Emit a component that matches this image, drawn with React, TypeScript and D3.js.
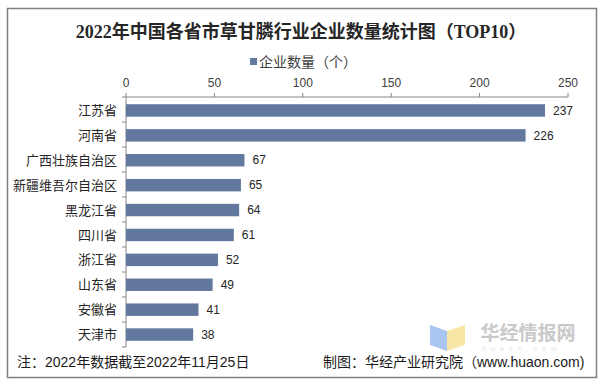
import React from "react";
import * as d3 from "d3";

const categories = ["江苏省", "河南省", "广西壮族自治区", "新疆维吾尔自治区", "黑龙江省", "四川省", "浙江省", "山东省", "安徽省", "天津市"];
const values = [237, 226, 67, 65, 64, 61, 52, 49, 41, 38];
const xTicks = [0, 50, 100, 150, 200, 250];
const titleText = "2022年中国各省市草甘膦行业企业数量统计图（TOP10）";
const legendText = "企业数量（个）";
const noteText = "注：2022年数据截至2022年11月25日";
const sourceText = "制图：华经产业研究院（www.huaon.com)";

const W = 602;
const H = 383;
const BAR = "#62789e";
const AXIS = "#868686";
const FONT = "'Liberation Sans', 'Noto Sans CJK SC', sans-serif";

export default function App() {
  const x = d3.scaleLinear().domain([0, 250]).range([126, 568]);
  const y = d3.scaleBand<string>().domain(categories).range([98, 347]).paddingInner(0.5).paddingOuter(0.25);
  const bounds = d3.range(categories.length + 1).map((i) => 97 + i * ((347 - 97) / categories.length));

  return (
    <svg width={W} height={H} style={{ position: "absolute", left: 0, top: 0, background: "#fff" }}>
      <rect x={0} y={0} width={W} height={H} fill="#fff" />
      <rect x={7.5} y={8.5} width={589} height={369} fill="none" stroke="#808080" strokeWidth={1.5} />

      {/* watermark */}
      <g>
        <polygon points="430,325 447,331 447,351 430,345" fill="#a9c6f0" />
        <polygon points="447,331 465,325 465,345 447,351" fill="#f7e7a6" />
        <text x={528} y={340} textAnchor="middle" fontFamily="'Noto Sans CJK SC', sans-serif" fontWeight="bold" fontSize={19} fill="#c9c9c9">华经情报网</text>
        <text x={522} y={351} textAnchor="middle" fontFamily={FONT} fontSize={7} letterSpacing={5} fill="#e3e3e3">huaon.com</text>
      </g>

      <text x={301} y={38} textAnchor="middle" fontFamily="'Liberation Serif', 'Noto Sans CJK SC', serif" fontWeight="bold" fontSize={18} fill="#262626">{titleText}</text>

      <rect x={250} y={58} width={7} height={7} fill={BAR} />
      <text x={259} y={67} fontFamily={FONT} fontSize={14} fill="#404040">{legendText}</text>

      {/* top axis */}
      <line x1={x(0)} x2={x(250)} y1={97} y2={97} stroke={AXIS} strokeWidth={1} />
      {xTicks.map((t) => (
        <g key={t}>
          <line x1={x(t)} x2={x(t)} y1={93} y2={97} stroke={AXIS} />
          <text x={x(t)} y={87} textAnchor="middle" fontFamily={FONT} fontSize={12} fill="#404040">{t}</text>
        </g>
      ))}

      {/* left axis */}
      <line x1={126} x2={126} y1={97} y2={347} stroke={AXIS} />
      {bounds.map((b, i) => (
        <line key={i} x1={122} x2={126} y1={b} y2={b} stroke={AXIS} />
      ))}

      {categories.map((c, i) => {
        const yc = (y(c) as number) + y.bandwidth() / 2;
        return (
          <g key={c}>
            <rect x={x(0)} y={y(c)} width={x(values[i]) - x(0)} height={y.bandwidth()} fill={BAR} />
            <text x={117} y={yc} dy="0.35em" textAnchor="end" fontFamily={FONT} fontSize={13} fill="#262626">{c}</text>
            <text x={x(values[i]) + 8} y={yc} dy="0.35em" fontFamily={FONT} fontSize={12} fill="#262626">{values[i]}</text>
          </g>
        );
      })}

      <text x={17} y={367} fontFamily={FONT} fontSize={14} fill="#1a1a1a">{noteText}</text>
      <text x={323} y={367} fontFamily={FONT} fontSize={14} fill="#1a1a1a">{sourceText}</text>
    </svg>
  );
}
